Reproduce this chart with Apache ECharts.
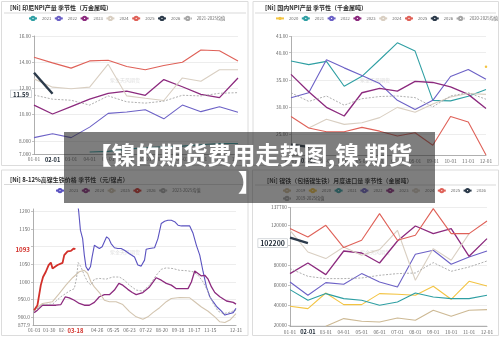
<!DOCTYPE html>
<html><head><meta charset="utf-8">
<script src="https://cdn.jsdelivr.net/npm/echarts@6/dist/echarts.min.js"></script>
<style>html,body{margin:0;padding:0;background:#fff}#c{width:500px;height:337px}</style>
</head><body><div id="c"></div>
<script>
// ---------- shared ----------
const months = ['01-01','02-01','03-01','04-01','05-01','06-01','07-01','08-01','09-01','10-01','11-01','12-01'];

// ---------- TL: 印尼NPI产量 季节性（万金属吨） ----------
const tl2021 = [null, null, null, 7.15, 7.2, 7.35, 7.5, 7.55, 7.6, 7.7, 7.8, 7.8];
const tl2022 = [8.25, 8.55, 8.25, 9.05, 10.1, 10.2, 10.38, 9.68, 10.73, 10.23, 10.6, 10.18];
const tl2023 = [10.73, 10.05, 10.62, 11.18, 11.63, 11.8, 11.48, 12.68, 12.13, 11.55, 11.3, 12.8];
const tl2024 = [12.73, 12.1, 11.98, 12.1, 13.85, 11.43, 11.25, 11.08, 12.8, 12.55, 13.43, 13.43];
const tl2025 = [14.38, 13.95, 13.55, 14.1, 14.15, 13.68, 13.43, 13.75, 14.0, 14.93, 14.88, 14.1];
const tl2026 = [13.2, 11.59];
const tlAvg  = [11.5, 11.18, 11.1, 10.73, 11.43, 10.98, 10.88, 11.03, 11.48, 11.43, 11.63, 11.68];
const tlYLabels = [7, 8, 10, 11.59, 12, 14, 16];
const tlYTicks = [7, 8, 10, 12, 14, 16];
const tlCur = 11.59;

// ---------- TR: 国内NPI产量 季节性（千金属吨） ----------
const tr2020 = [null, null, null, null, null, null, null, null, null, null, null, 37.4];
const tr2021 = [38.47, 37.8, 38.4, 33.8, 35.64, 38.7, 41.84, 40.3, 31.2, 31.1, 31.96, 33.2];
const tr2022 = [31.66, 32.6, 38.7, 37.2, 35.8, 34.3, 31.2, 29.5, 31.2, 35.6, 36.9, 35.1];
const tr2023 = [36.0, 32.8, 29.9, 28.3, 32.6, 33.4, 32.9, 34.7, 34.5, 33.7, 32.3, 29.7];
const tr2024 = [null, 26.1, 27.7, 26.75, 27.05, 28.0, 29.9, 29.0, 30.5, 31.8, 32.45, 32.3];
const tr2025 = [28.2, 26.1, 25.4, 25.4, 26.2, 25.5, 24.6, 25.2, 22.9, 28.2, 27.2, 21.1];
const tr2026 = [23.0, 22.6];
const trAvg  = [32.6, 31.0, 32.0, 30.3, 31.5, 31.9, 32.0, 31.7, 30.0, 32.0, 32.6, 31.4];
const trYLabels = [25, 30, 35, 40, 43];

// ---------- BL: 8-12%高镍生铁价格 季节性（元/镍点） ----------
const blTickDays   = [2, 29, 57, 76, 115, 144, 173, 202, 231, 260, 289, 318, 364];
const blTickLabels = ['01-03','01-30','02-27','03-18','04-26','05-25','06-23','07-22','08-20','09-18','10-17','11-15','12-31'];
const blCurDay = 76;
const bl2023Days = [79, 82, 85, 89, 92, 95, 99, 103, 106, 110, 114, 119, 124, 128, 132, 136, 140, 146, 152, 158, 164, 173, 182, 188, 194, 200, 203, 209, 218, 224, 230, 236, 242, 248, 254, 260, 266, 281, 287, 293, 299, 305, 311, 317, 323, 330, 338, 344, 352, 359, 364];
const bl2023     = [1240, 1199, 1147, 1123, 1076, 1043, 1033, 1043, 1071, 1104, 1100, 1095, 1100, 1114, 1128, 1123, 1109, 1097, 1095, 1095, 1090, 1080, 1071, 1048, 1045, 1062, 1093, 1095, 1097, 1123, 1166, 1172, 1175, 1175, 1171, 1161, 1159, 1159, 1138, 1104, 1076, 1029, 986, 958, 944, 929, 917, 906, 910, 913, 925];
const bl2024Days = [2, 8, 17, 29, 41, 50, 58, 65, 74, 83, 92, 101, 110, 119, 128, 137, 146, 154, 161, 170, 178, 185, 197, 209, 221, 230, 239, 248, 257, 278, 284, 290, 296, 302, 308, 314, 320, 326, 335, 347, 359, 364];
const bl2024     = [913, 920, 934, 934, 934, 936, 958, 955, 948, 939, 934, 934, 942, 958, 964, 964, 977, 996, 991, 979, 970, 964, 970, 986, 1012, 1005, 996, 991, 981, 981, 1000, 1031, 1024, 1017, 1019, 1008, 986, 970, 958, 946, 942, 937];
const bl2025Days = [2, 17, 35, 47, 59, 71, 83, 92, 98, 104, 110, 119, 128, 137, 149, 161, 173, 185, 197, 206, 215, 227, 239, 248, 263, 281, 290, 302, 314, 326, 335, 344, 353, 364];
const bl2025     = [920, 939, 944, 967, 991, 1012, 1029, 1033, 1024, 1000, 986, 970, 948, 944, 944, 936, 916, 901, 894, 901, 913, 927, 944, 953, 956, 955, 944, 929, 917, 901, 887, 885, 892, 910];
const bl2026Days = [2, 8, 14, 18, 23, 28, 32, 35, 38, 44, 47, 53, 56, 62, 68, 73, 76];
const bl2026     = [920, 934, 991, 1014, 1029, 1048, 1055, 1038, 1040, 1048, 1052, 1054, 1076, 1087, 1088, 1095, 1093];
const blAvgDays  = [2, 17, 35, 50, 65, 74, 78, 81, 86, 92, 98, 104, 110, 119, 131, 143, 155, 164, 173, 185, 197, 209, 221, 230, 239, 251, 263, 275, 287, 296, 305, 314, 323, 332, 341, 350, 364];
const blAvg      = [917, 936, 937, 958, 974, 981, 1010, 1055, 1043, 1019, 1000, 991, 1008, 1010, 1008, 1014, 1014, 1005, 991, 977, 974, 991, 1019, 1036, 1040, 1038, 1033, 1032, 1029, 1019, 1000, 972, 939, 917, 910, 913, 920];
const blYLabels = [877.9, 900, 950, 1000, 1050, 1093, 1150, 1200];
const blYTicks = [900, 950, 1000, 1050, 1100, 1150, 1200];
const blCur = 1093;

// ---------- BR: 镍铁（包括镍生铁）月度进口量 季节性（金属吨） ----------
const br2019 = [null, null, 19000, 26700, 24000, 23300, 27300, 25000, 35000, 29000, 35000, 35700];
const br2020 = [39000, 36700, 52300, 40700, 40700, 51700, 51000, 50000, 59000, 46000, 64000, 59300];
const br2021 = [55700, 45000, 51700, 46700, 45000, 40000, 43300, 52300, 48300, 46700, 46700, 50000];
const br2022 = [63300, 50000, 62700, 61000, 71700, 63300, 58300, 91000, 95000, 81000, 88300, 94300];
const br2023 = [71700, 82300, 70700, 94300, 92300, 82300, 104300, 119300, 111700, 116700, 89000, 106700];
const br2024 = [115000, 93300, 86700, 98300, 90000, 95700, 115000, 65000, 96700, 85000, 111700, null];
const br2025 = [116700, 108300, 120000, 97700, 105000, 131700, 105000, 110000, 136700, 111700, 111700, 124300];
const br2026 = [107700, 102200];
const brAvg  = [76700, 69000, 66700, 66700, 67300, 70000, 71700, 72300, 82700, 74000, 78300, 84300];
const brYLabels = [20000, 40000, 60000, 80000, 102200, 120000, 137700];
const brYTicks = [20000, 40000, 60000, 80000, 100000, 120000, 137700];
const brCur = 102200;

// ---------- styling ----------
const C = {y2019:'#cdb994', y2020:'#f3c443', y2021:'#2f9fa3', y2022:'#6c61c6', y2023:'#8c2a7e',
           y2024:'#d9cfc2', y2025:'#df6158', y2026:'#2b3a4a', avg:'#a6a6a6', blue23:'#5a52c0', red26:'#d2302a', beige25:'#d3c5b0'};
const FF = '"Noto Sans CJK SC", "Noto Sans", sans-serif';
const near = (a, b) => Math.abs(a - b) < 1e-6;
const zip = (d, v) => d.map((x, i) => [x, v[i]]);

function ln(name, data, color, idx, extra) {
  return Object.assign({
    type: 'line', name, data, xAxisIndex: idx, yAxisIndex: idx,
    showSymbol: false, symbol: 'emptyCircle', symbolSize: 3,
    lineStyle: { color, width: 1.1 }, itemStyle: { color },
    silent: true, z: 3
  }, extra || {});
}
const avgStyle = { lineStyle: { color: C.avg, width: 0.9, type: [2, 1.5] }, itemStyle: { color: C.avg } };

function catX(idx) {
  return { type: 'category', gridIndex: idx, data: months, boundaryGap: false,
    axisLine: { lineStyle: { color: '#9a9a9a', width: 0.8 } }, axisTick: { show: false },
    axisLabel: { interval: 0, fontSize: 4.8, color: '#666', margin: 3,
      formatter: v => v === '02-01' ? '{b|' + v + '}' : v,
      rich: { b: { fontWeight: 'bold', fontSize: 5.6, color: '#1f2a36' } } } };
}
function valY(idx, min, max, labels, ticks, fmt, cur, rich) {
  return { type: 'value', gridIndex: idx, min, max, scale: true,
    axisLine: { show: true, lineStyle: { color: '#9a9a9a', width: 0.8 } },
    axisTick: { show: true, length: 2, customValues: ticks, lineStyle: { color: '#9a9a9a', width: 0.6 } },
    splitLine: { show: true, lineStyle: { color: '#e5e5e5', width: 0.7 } },
    axisLabel: { customValues: labels, fontSize: 4.8, color: '#666', margin: 3,
      formatter: v => { const s = fmt(v); return (cur != null && near(v, cur)) ? '{h|' + s + '}' : s; },
      rich: { h: rich } } };
}
const fmt4 = v => Number(v).toPrecision(4);
const fmtBL = v => v >= 1000 ? String(Math.round(v)) : Number(v).toFixed(1);
const fmtInt = v => String(Math.round(v));

const legendCommon = { orient: 'horizontal', itemWidth: 8, itemHeight: 4, itemGap: 2.5, padding: 0,
  selectedMode: false, textStyle: { fontSize: 4.2, color: '#666', fontFamily: FF },
  formatter: n => n.split('|')[0] };

const tlNames = ['2021|tl','2022|tl','2023|tl','2024|tl','2025|tl','2026|tl','2021-2025均值|tl'];
const trNames = ['2020|tr','2021|tr','2022|tr','2023|tr','2024|tr','2025|tr','2026|tr','2020-2025均值|tr'];
const blNames = ['2023|bl','2024|bl','2025|bl','2026|bl','2023-2025均值|bl'];
const brNames = ['2019|br','2020|br','2021|br','2022|br','2023|br','2024|br','2025|br','2026|br','2019-2025均值|br'];

const series = [
  // TL
  ln(tlNames[0], tl2021, C.y2021, 0),
  ln(tlNames[1], tl2022, C.y2022, 0),
  ln(tlNames[2], tl2023, C.y2023, 0, { lineStyle: { color: C.y2023, width: 1.3 } }),
  ln(tlNames[3], tl2024, C.y2024, 0),
  ln(tlNames[4], tl2025, C.y2025, 0),
  ln(tlNames[6], tlAvg, C.avg, 0, avgStyle),
  ln(tlNames[5], tl2026, C.y2026, 0, { lineStyle: { color: C.y2026, width: 2.4 }, z: 5 }),
  // TR
  ln(trNames[0], tr2020, C.y2020, 1, { showSymbol: true, symbol: 'circle', symbolSize: 2.5 }),
  ln(trNames[1], tr2021, C.y2021, 1),
  ln(trNames[2], tr2022, C.y2022, 1),
  ln(trNames[3], tr2023, C.y2023, 1, { lineStyle: { color: C.y2023, width: 1.3 } }),
  ln(trNames[4], tr2024, C.y2024, 1),
  ln(trNames[5], tr2025, C.y2025, 1),
  ln(trNames[7], trAvg, C.avg, 1, avgStyle),
  ln(trNames[6], tr2026, C.y2026, 1, { lineStyle: { color: C.y2026, width: 2.4 }, z: 5 }),
  // BL
  ln(blNames[0], zip(bl2023Days, bl2023), C.blue23, 2),
  ln(blNames[1], zip(bl2024Days, bl2024), C.y2023, 2, { lineStyle: { color: C.y2023, width: 1.3 } }),
  ln(blNames[2], zip(bl2025Days, bl2025), C.beige25, 2),
  ln(blNames[4], zip(blAvgDays, blAvg), C.avg, 2, avgStyle),
  ln(blNames[3], zip(bl2026Days, bl2026), C.red26, 2, { lineStyle: { color: C.red26, width: 1.8 }, z: 5 }),
  // BR
  ln(brNames[0], br2019, C.y2019, 3),
  ln(brNames[1], br2020, C.y2020, 3),
  ln(brNames[2], br2021, C.y2021, 3),
  ln(brNames[3], br2022, C.y2022, 3),
  ln(brNames[4], br2023, C.y2023, 3, { lineStyle: { color: C.y2023, width: 1.3 } }),
  ln(brNames[5], br2024, C.y2024, 3),
  ln(brNames[6], br2025, C.y2025, 3),
  ln(brNames[8], brAvg, C.avg, 3, avgStyle),
  ln(brNames[7], br2026, C.y2026, 3, { lineStyle: { color: C.y2026, width: 2.4 }, z: 5 }),
];

const hlBox = { fontWeight: 'bold', fontSize: 6, color: '#1f2a36', borderColor: '#b8bec4', borderWidth: 0.6, padding: [1, 2, 0, 2], backgroundColor: '#fff' };

const titleStyle = (t) => ({ text: t, fill: '#2a2a2a', fontSize: 6, fontWeight: 'bold', fontFamily: FF, verticalAlign: 'middle' });
const wm = (x, y) => ({ type: 'text', x, y, z: 1, style: { text: '紫金天风期货', fill: 'rgba(160,160,160,0.35)', fontSize: 5, fontFamily: FF, align: 'center', verticalAlign: 'middle' } });
const box = (x, y, w, h) => ({ type: 'rect', z: 0, shape: { x, y, width: w, height: h }, style: { fill: 'none', stroke: '#dcdcdc', lineWidth: 1 } });
const sep = (x1, x2, y) => ({ type: 'line', z: 0, shape: { x1, y1: y, x2, y2: y }, style: { stroke: '#cfcfcf', lineWidth: 0.8 } });

const option = {
  animation: false,
  textStyle: { fontFamily: FF },
  grid: [
    { left: 34, top: 36, width: 204, height: 118 },
    { left: 291, top: 36.5, width: 195, height: 119 },
    { left: 33, top: 209, width: 203, height: 116 },
    { left: 290, top: 207.6, width: 197, height: 118.7 }
  ],
  xAxis: [
    catX(0), catX(1),
    { type: 'value', gridIndex: 2, min: 0, max: 364,
      axisLine: { show: true, lineStyle: { color: '#9a9a9a', width: 0.8 } },
      axisTick: { show: false }, splitLine: { show: false },
      axisLabel: { customValues: blTickDays, fontSize: 4.8, color: '#666', margin: 3,
        formatter: v => { const i = blTickDays.indexOf(Math.round(v)); const s = i >= 0 ? blTickLabels[i] : '';
          return Math.round(v) === blCurDay ? '{r|' + s + '}' : s; },
        rich: { r: { fontWeight: 'bold', fontSize: 5.8, color: '#d2302a', backgroundColor: '#fff', padding: [0, 2] } } } },
    catX(3)
  ],
  yAxis: [
    valY(0, 7, 16, tlYLabels, tlYTicks, fmt4, tlCur, hlBox),
    valY(1, 21, 43, trYLabels, trYLabels, fmt4, null, hlBox),
    valY(2, 877.9, 1207, blYLabels, blYTicks, fmtBL, blCur, { fontWeight: 'bold', fontSize: 6.2, color: '#d2302a' }),
    valY(3, 19000, 137700, brYLabels, brYTicks, fmtInt, brCur, Object.assign({}, hlBox, { fontSize: 7 }))
  ],
  legend: [
    Object.assign({ data: tlNames, left: 28, top: 15.8 }, legendCommon),
    Object.assign({ data: trNames, left: 275, top: 15.8 }, legendCommon),
    Object.assign({ data: blNames, left: 55, top: 188 }, legendCommon),
    Object.assign({ data: brNames.slice(0, 8), left: 282, top: 188 }, legendCommon),
    Object.assign({ data: brNames.slice(8), left: 282, top: 195.8 }, legendCommon)
  ],
  graphic: [
    box(1.5, 1.5, 246.5, 164), box(253, 1.5, 245.5, 164),
    box(1.5, 170, 246.5, 165.5), box(252.5, 170, 246, 165.5),
    sep(4, 246, 13), sep(255, 496, 13), sep(4, 246, 184.5), sep(255, 496, 185),
    { type: 'text', x: 10, y: 7.5, z: 1, style: titleStyle('[Ni] 印尼NPI产量 季节性（万金属吨）') },
    { type: 'text', x: 265, y: 8, z: 1, style: titleStyle('[Ni] 国内NPI产量 季节性（千金属吨）') },
    { type: 'text', x: 10, y: 180, z: 1, style: titleStyle('[Ni] 8-12%高镍生铁价格 季节性（元/镍点）') },
    { type: 'text', x: 267, y: 181, z: 1, style: titleStyle('[Ni] 镍铁（包括镍生铁）月度进口量 季节性（金属吨）') },
    wm(125, 80), wm(375, 80), wm(125, 252), wm(375, 252),
    { type: 'rect', z: 100, shape: { x: 64, y: 132, width: 371, height: 71 }, style: { fill: 'rgba(40,40,40,0.6)' } },
    { type: 'text', x: 250, y: 155, z: 101, style: { text: '【镍的期货费用走势图,镍 期货', fill: '#fff', fontSize: 24, fontWeight: 'bold', fontFamily: FF, align: 'center', verticalAlign: 'middle' } },
    { type: 'text', x: 250, y: 182, z: 101, style: { text: '】', fill: '#fff', fontSize: 24, fontWeight: 'bold', fontFamily: FF, align: 'center', verticalAlign: 'middle' } }
  ],
  series
};

const chart = echarts.init(document.getElementById('c'), null, { renderer: 'canvas' });
chart.setOption(option);
</script>
</body></html>
